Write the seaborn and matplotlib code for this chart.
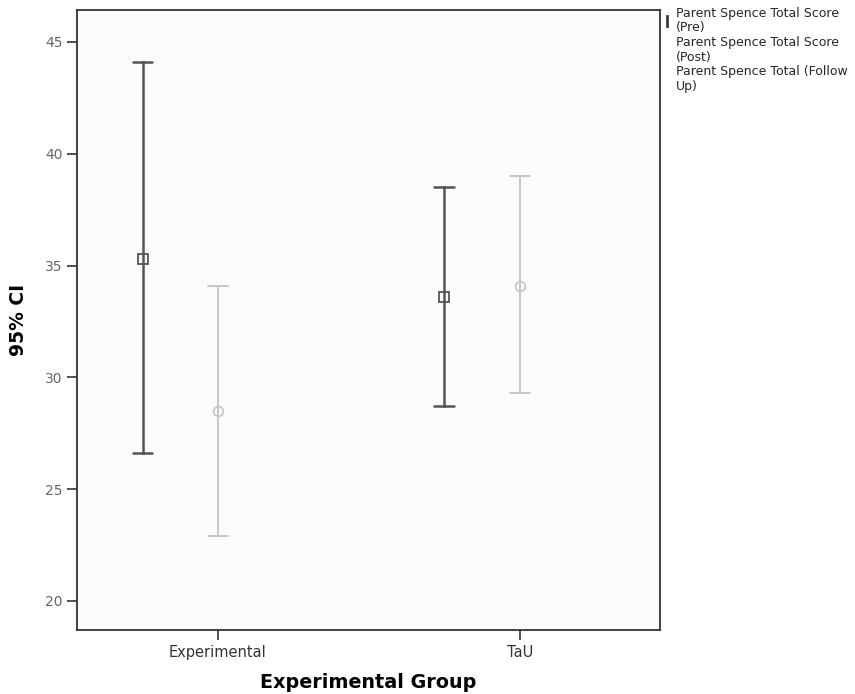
import numpy as np
import pandas as pd
import matplotlib
matplotlib.use("Agg")
import matplotlib.pyplot as plt
import seaborn as sns
from matplotlib.lines import Line2D

# Summary values (mean with 95% CI bounds)
groups = ["Experimental", "TaU"]
series = [
    "Parent Spence Total Score (Pre)",
    "Parent Spence Total Score (Post)",
    "Parent Spence Total (Follow Up)",
]
legend_labels = [
    "Parent Spence Total Score\n(Pre)",
    "Parent Spence Total Score\n(Post)",
    "Parent Spence Total (Follow\nUp)",
]
pre_mean = [35.3, 33.6]
pre_lo = [26.6, 28.7]
pre_hi = [44.1, 38.5]
post_mean = [28.5, 34.1]
post_lo = [22.9, 29.3]
post_hi = [34.1, 39.0]
yticks = [20, 25, 30, 35, 40, 45]

# long table: lo / mean / hi per cell, median -> mean, min/max -> CI
rows = []
for i, g in enumerate(groups):
    for s, lo, m, hi in [(series[0], pre_lo, pre_mean, pre_hi),
                         (series[1], post_lo, post_mean, post_hi)]:
        for v in (lo[i], m[i], hi[i]):
            rows.append({"group": g, "series": s, "value": v})
df = pd.DataFrame(rows)

sns.set_style("white")
colors = ["#555555", "#c6c6c6", "#e0e0e0"]

fig = plt.figure(figsize=(8.55, 6.94), dpi=100)
ax = fig.add_axes([77 / 855, 64 / 694, 583 / 855, 620 / 694])
ax.set_facecolor("#fbfbfb")

sns.pointplot(
    data=df, x="group", y="value", hue="series",
    order=groups, hue_order=series, palette=colors,
    estimator="median", errorbar=lambda v: (v.min(), v.max()),
    dodge=0.5, markers=["s", "o", "D"], linestyles="none",
    capsize=0.066, err_kws={"linewidth": 1.8}, markersize=7,
    legend=False, ax=ax,
)

# open markers, thinner light lines
for ln in ax.lines:
    if ln.get_marker() not in (None, "None", "", " "):
        ln.set_markerfacecolor("none")
        ln.set_markeredgewidth(1.3)
for ln in ax.lines:
    c = matplotlib.colors.to_hex(ln.get_color())
    if c == colors[1]:
        ln.set_linewidth(1.4)

ax.set_xlim(-0.467, 1.464)
ax.set_ylim(18.7, 46.43)
ax.set_yticks(yticks)
ax.tick_params(axis="y", direction="out", length=7, width=1.2,
               colors="#333333", labelcolor="#666666", labelsize=10, left=True)
ax.tick_params(axis="x", direction="out", length=7, width=1.2,
               colors="#333333", labelcolor="#333333", labelsize=10.5, bottom=True)
for sp in ax.spines.values():
    sp.set_visible(True)
    sp.set_color("#333333")
    sp.set_linewidth(1.3)

ax.set_xlabel("Experimental Group", fontsize=13.8, fontweight="bold",
              labelpad=10, color="black")
ax.set_ylabel("95% CI", fontsize=13.5, fontweight="bold", labelpad=12,
              color="black")

handles = [
    Line2D([], [], linestyle="none", marker="$\\mathrm{I}$", markersize=9,
           color=c, markeredgewidth=0.5)
    for c in ["#333333", "#ffffff", "#ffffff"]
]
fig.legend(handles, legend_labels, loc="upper left",
           bbox_to_anchor=(661 / 855, 1 - 4 / 694), frameon=False,
           fontsize=9, handlelength=0.6, handletextpad=0.4,
           labelspacing=0.1, borderaxespad=0, borderpad=0.2)

fig.savefig("out.png", dpi=100)
